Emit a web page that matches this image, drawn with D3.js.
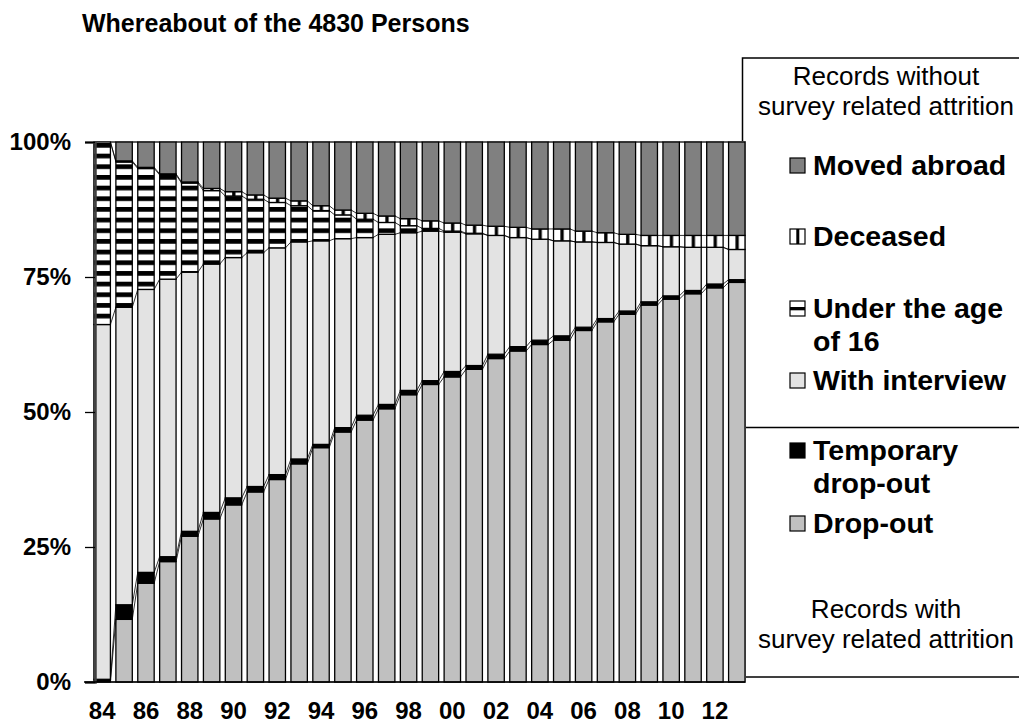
<!DOCTYPE html>
<html>
<head>
<meta charset="utf-8">
<script src="https://cdn.jsdelivr.net/npm/d3@7"></script>
<style>
    body { margin: 0; background: #ffffff; }
    svg { display: block; font-family: Arial, "Liberation Sans", sans-serif; }
</style>
</head>
<body>
<div id="chart"></div>
<script>
const WIDTH = 1019;
const HEIGHT = 727;

// categories (survey years) and the labels under the axis
const years = ["1984", "1985", "1986", "1987", "1988", "1989", "1990", "1991", "1992", "1993",
    "1994", "1995", "1996", "1997", "1998", "1999", "2000", "2001", "2002", "2003",
    "2004", "2005", "2006", "2007", "2008", "2009", "2010", "2011", "2012", "2013"];
const tickYears = ["1984", "1986", "1988", "1990", "1992", "1994", "1996", "1998",
    "2000", "2002", "2004", "2006", "2008", "2010", "2012"];
const tickLabels = ["84", "86", "88", "90", "92", "94", "96", "98",
    "00", "02", "04", "06", "08", "10", "12"];
const yTicks = [0, 25, 50, 75, 100];

// shares in percent, bottom to top
const dropOut = [0, 11.6, 18.3, 22.3, 27.0, 30.2, 32.8, 35.2, 37.5, 40.4,
    43.4, 46.3, 48.5, 50.6, 53.2, 55.1, 56.5, 57.9, 59.9, 61.3,
    62.5, 63.3, 65.1, 66.7, 68.1, 69.8, 70.9, 71.9, 73.0, 74.0];
const temporaryDropOut = [0.5, 2.7, 2.0, 0.9, 0.9, 1.2, 1.3, 1.0, 0.9, 0.9,
    0.6, 0.8, 0.9, 0.8, 0.8, 0.7, 1.0, 0.7, 0.8, 0.8,
    0.8, 0.8, 0.6, 0.6, 0.6, 0.6, 0.6, 0.6, 0.7, 0.5];
const withInterview = [65.7, 55.1, 52.4, 51.4, 48.0, 46.0, 44.5, 43.3, 42.0, 40.2,
    37.7, 35.0, 32.9, 31.5, 29.2, 27.7, 25.8, 24.4, 22.0, 20.2,
    18.7, 17.6, 15.8, 14.1, 12.4, 10.4, 9.1, 8.0, 6.8, 5.6];
const underAge16 = [33.8, 26.9, 22.4, 19.3, 16.5, 13.6, 11.4, 9.9, 8.4, 6.7,
    5.6, 4.4, 3.4, 2.2, 1.3, 0.5, 0.2, 0.1, 0, 0,
    0, 0, 0, 0, 0, 0, 0, 0, 0, 0];
const deceased = [0, 0.2, 0.2, 0.2, 0.2, 0.4, 0.8, 0.8, 0.8, 0.9,
    0.9, 0.9, 1.1, 1.2, 1.3, 1.4, 1.5, 1.5, 1.7, 1.9,
    1.9, 2.2, 2.0, 1.8, 1.8, 1.9, 2.1, 2.2, 2.2, 2.6];
const movedAbroad = [0, 3.5, 4.7, 5.9, 7.4, 8.6, 9.2, 9.8, 10.4, 10.9,
    11.8, 12.6, 13.2, 13.7, 14.2, 14.6, 15.0, 15.4, 15.6, 15.8,
    16.1, 16.1, 16.5, 16.8, 17.1, 17.3, 17.3, 17.3, 17.3, 17.3];

const keys = ["dropOut", "temporaryDropOut", "withInterview", "underAge16", "deceased", "movedAbroad"];

const rows = years.map((year, i) => ({
    year: year,
    dropOut: dropOut[i],
    temporaryDropOut: temporaryDropOut[i],
    withInterview: withInterview[i],
    underAge16: underAge16[i],
    deceased: deceased[i],
    movedAbroad: movedAbroad[i]
}));

const fills = {
    dropOut: "#c0c0c0",
    temporaryDropOut: "#000000",
    withInterview: "#e3e3e3",
    underAge16: "url(#hStripes)",
    deceased: "url(#vStripes)",
    movedAbroad: "#808080"
};

const plot = {left: 94, right: 745, top: 142, bottom: 682};

const svg = d3.select("#chart").append("svg")
    .attr("width", WIDTH)
    .attr("height", HEIGHT);

// hatch patterns
const defs = svg.append("defs");

const hp = defs.append("pattern")
    .attr("id", "hStripes")
    .attr("patternUnits", "userSpaceOnUse")
    .attr("x", 0).attr("y", 143)
    .attr("width", 20).attr("height", 10.67);
hp.append("rect").attr("width", 20).attr("height", 10.67).attr("fill", "#fff");
hp.append("rect").attr("width", 20).attr("height", 4.7).attr("fill", "#000");

const vp = defs.append("pattern")
    .attr("id", "vStripes")
    .attr("patternUnits", "objectBoundingBox")
    .attr("patternContentUnits", "objectBoundingBox")
    .attr("width", 1).attr("height", 1);
vp.append("rect").attr("width", 1).attr("height", 1).attr("fill", "#fff");
vp.append("rect").attr("x", 0.42).attr("width", 0.2).attr("height", 1).attr("fill", "#000");

const hsw = defs.append("pattern")
    .attr("id", "hSwatch")
    .attr("patternUnits", "objectBoundingBox")
    .attr("patternContentUnits", "objectBoundingBox")
    .attr("width", 1).attr("height", 1);
hsw.append("rect").attr("width", 1).attr("height", 1).attr("fill", "#fff");
hsw.append("rect").attr("y", 0.4).attr("width", 1).attr("height", 0.22).attr("fill", "#000");

// title
svg.append("text")
    .attr("x", 82)
    .attr("y", 32)
    .style("font-size", "25px")
    .style("font-weight", "bold")
    .text("Whereabout of the 4830 Persons");

// legend box
const legend = svg.append("g").attr("class", "legend");

legend.append("rect")
    .attr("x", 742.5).attr("y", 58)
    .attr("width", 300).attr("height", 619)
    .attr("fill", "#fff")
    .attr("stroke", "#000")
    .attr("stroke-width", 1.5);

legend.append("line")
    .attr("x1", 742.5).attr("x2", 1030)
    .attr("y1", 427.5).attr("y2", 427.5)
    .attr("stroke", "#000")
    .attr("stroke-width", 1.5);

const notes = [
    {lines: ["Records without", "survey related attrition"], y: 85},
    {lines: ["Records with", "survey related attrition"], y: 618}
];

notes.forEach(n => {
    legend.append("text")
        .attr("text-anchor", "middle")
        .style("font-size", "26px")
        .selectAll("tspan")
        .data(n.lines)
        .join("tspan")
        .attr("x", 886)
        .attr("y", (d, i) => n.y + i * 30)
        .text(d => d);
});

const legendItems = [
    {key: "movedAbroad", lines: ["Moved abroad"], y: 175},
    {key: "deceased", lines: ["Deceased"], y: 246},
    {key: "underAge16", lines: ["Under the age", "of 16"], y: 318},
    {key: "withInterview", lines: ["With interview"], y: 390},
    {key: "temporaryDropOut", lines: ["Temporary", "drop-out"], y: 460},
    {key: "dropOut", lines: ["Drop-out"], y: 533}
];

const item = legend.selectAll("g.item")
    .data(legendItems)
    .join("g")
    .attr("class", "item");

item.append("rect")
    .attr("x", 790)
    .attr("y", d => d.y - 17)
    .attr("width", 15)
    .attr("height", 15)
    .attr("fill", d => d.key === "underAge16" ? "url(#hSwatch)" : fills[d.key])
    .attr("stroke", "#000")
    .attr("stroke-width", 1.2);

item.append("text")
    .style("font-size", "28.5px")
    .style("font-weight", "bold")
    .selectAll("tspan")
    .data(d => d.lines.map((l, i) => ({text: l, y: d.y + i * 33})))
    .join("tspan")
    .attr("x", 813)
    .attr("y", d => d.y)
    .text(d => d.text);

// scales
const x = d3.scaleBand()
    .domain(years)
    .range([plot.left, plot.right])
    .paddingInner(0.25)
    .paddingOuter(0);

const y = d3.scaleLinear()
    .domain([0, 100])
    .range([plot.bottom, plot.top]);

// plot area
svg.append("rect")
    .attr("x", plot.left).attr("y", plot.top)
    .attr("width", plot.right - plot.left)
    .attr("height", plot.bottom - plot.top)
    .attr("fill", "#fff")
    .attr("stroke", "#a0a0a0")
    .attr("stroke-width", 2);

const series = d3.stack().keys(keys)(rows);

const layer = svg.append("g")
    .attr("class", "bars")
    .selectAll("g")
    .data(series)
    .join("g")
    .attr("fill", d => fills[d.key]);

layer.selectAll("rect")
    .data(d => d.filter(s => s[1] - s[0] > 0.001))
    .join("rect")
    .attr("x", d => x(d.data.year))
    .attr("y", d => y(d[1]))
    .attr("width", x.bandwidth())
    .attr("height", d => y(d[0]) - y(d[1]))
    .attr("stroke", "#000")
    .attr("stroke-width", 1.3);

// series lines between neighbouring bars
const seriesLines = svg.append("g").attr("class", "series-lines");

series.forEach(s => {
    seriesLines.selectAll(null)
        .data(d3.pairs(s))
        .join("line")
        .attr("x1", d => x(d[0].data.year) + x.bandwidth())
        .attr("y1", d => y(d[0][1]))
        .attr("x2", d => x(d[1].data.year))
        .attr("y2", d => y(d[1][1]))
        .attr("stroke", "#000")
        .attr("stroke-width", 0.8);
});

// axes
const yAxis = d3.axisLeft(y)
    .tickValues(yTicks)
    .tickFormat(d => d + "%")
    .tickSize(10)
    .tickPadding(14);

const yAxisContainer = svg.append("g")
    .attr("class", "y axis")
    .attr("transform", "translate(" + (plot.left + 1) + ",0)")
    .call(yAxis);

yAxisContainer.select(".domain").attr("stroke", "#404040").attr("stroke-width", 2.5);
yAxisContainer.selectAll(".tick line").attr("stroke", "#000").attr("stroke-width", 1.3);
yAxisContainer.selectAll("text")
    .attr("fill", "#000")
    .style("font-size", "24px")
    .style("font-weight", "bold")
    .style("font-family", "Arial, 'Liberation Sans', sans-serif");

const xAxis = d3.axisBottom(x)
    .tickValues(tickYears)
    .tickFormat(d => tickLabels[tickYears.indexOf(d)])
    .tickSize(0)
    .tickPadding(20);

const xAxisContainer = svg.append("g")
    .attr("class", "x axis")
    .attr("transform", "translate(0," + plot.bottom + ")")
    .call(xAxis);

xAxisContainer.select(".domain").remove();
xAxisContainer.selectAll("text")
    .attr("fill", "#000")
    .style("font-size", "24px")
    .style("font-weight", "bold")
    .style("font-family", "Arial, 'Liberation Sans', sans-serif");

svg.append("line")
    .attr("x1", plot.left - 10).attr("x2", plot.right)
    .attr("y1", plot.bottom).attr("y2", plot.bottom)
    .attr("stroke", "#000")
    .attr("stroke-width", 1.5);
</script>
</body>
</html>
